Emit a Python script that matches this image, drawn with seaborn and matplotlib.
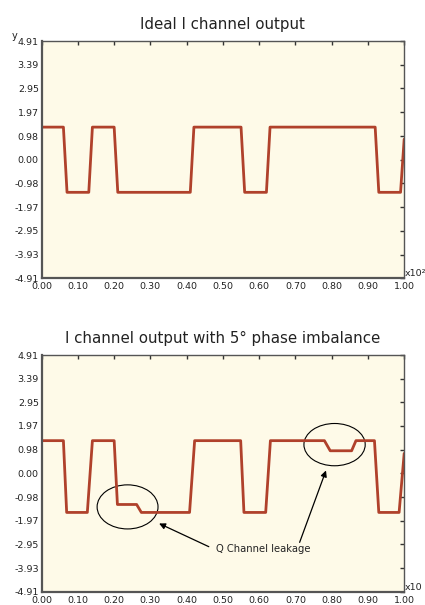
import numpy as np
import pandas as pd
import matplotlib
matplotlib.use("Agg")
import matplotlib.pyplot as plt
from matplotlib.patches import Ellipse
from matplotlib import font_manager
import seaborn as sns

# waveform breakpoints (x in units of x10^2)
ideal_t = [0.00, 0.06, 0.07, 0.13, 0.14, 0.20, 0.21, 0.41, 0.42, 0.55, 0.56,
           0.62, 0.63, 0.92, 0.93, 0.99, 1.00]
ideal_v = [1.35, 1.35, -1.35, -1.35, 1.35, 1.35, -1.35, -1.35, 1.35, 1.35, -1.35,
           -1.35, 1.35, 1.35, -1.35, -1.35, 0.85]

imb_t = [0.00, 0.06, 0.069, 0.126, 0.14, 0.20, 0.209, 0.262, 0.275, 0.408, 0.422,
         0.549, 0.558, 0.618, 0.631, 0.78, 0.796, 0.855, 0.867, 0.918, 0.93,
         0.986, 1.00]
imb_v = [1.36, 1.36, -1.62, -1.62, 1.36, 1.36, -1.29, -1.29, -1.62, -1.62, 1.36,
         1.36, -1.62, -1.62, 1.36, 1.36, 0.94, 0.94, 1.36, 1.36, -1.62,
         -1.62, 0.83]

ytick_pos = [4.91, 3.93, 2.95, 1.97, 0.98, 0.00, -0.98, -1.97, -2.95, -3.93, -4.91]
ytick_lab = ["4.91", "3.39", "2.95", "1.97", "0.98", "0.00", "-0.98", "-1.97",
             "-2.95", "-3.93", "-4.91"]
xtick_pos = [0.0, 0.1, 0.2, 0.3, 0.4, 0.5, 0.6, 0.7, 0.8, 0.9, 1.0]
xtick_lab = ["%.2f" % v for v in xtick_pos]

sns.set_style("white")
installed = {f.name for f in font_manager.fontManager.ttflist}
narrow = [n for n in ["Liberation Sans Narrow", "DejaVu Sans Condensed"] if n in installed]
plt.rcParams['font.family'] = narrow + ['DejaVu Sans']

line_col = "#b0412b"
bg_col = "#fefae8"
spine_col = "#555555"
text_col = "#222222"

fig = plt.figure(figsize=(4.25, 6.05), dpi=100)
ax1 = fig.add_axes([0.098, 0.540, 0.853, 0.392])
ax2 = fig.add_axes([0.098, 0.022, 0.853, 0.391])


def style_axis(ax, title, mult):
    ax.set_facecolor(bg_col)
    ax.set_xlim(0, 1)
    ax.set_ylim(-4.91, 4.91)
    ax.set_xticks(xtick_pos)
    ax.set_xticklabels(xtick_lab)
    ax.set_yticks(ytick_pos)
    ax.set_yticklabels(ytick_lab)
    ax.tick_params(direction="in", length=3, width=1, color="#333333",
                   labelsize=6.8, top=True, right=True, pad=2,
                   labelcolor=text_col)
    ax.tick_params(axis="x", pad=3)
    for s in ax.spines.values():
        s.set_color(spine_col)
        s.set_linewidth(1.0)
    ax.spines["left"].set_linewidth(1.6)
    ax.spines["bottom"].set_linewidth(1.6)
    ax.set_xlabel("")
    ax.set_ylabel("")
    ax.set_title(title, fontsize=10.8, color=text_col, pad=9)
    ax.text(1.002, 0.0, mult, transform=ax.transAxes, fontsize=6.8,
            color=text_col, ha="left", va="bottom")


df1 = pd.DataFrame({"t": ideal_t, "v": ideal_v})
df2 = pd.DataFrame({"t": imb_t, "v": imb_v})
sns.lineplot(data=df1, x="t", y="v", ax=ax1, color=line_col, linewidth=2.0,
             estimator=None, sort=False)
sns.lineplot(data=df2, x="t", y="v", ax=ax2, color=line_col, linewidth=2.0,
             estimator=None, sort=False)

style_axis(ax1, "Ideal I channel output", "x10²")
style_axis(ax2, "I channel output with 5° phase imbalance", "x10")
ax1.text(-0.075, 1.0, "y", transform=ax1.transAxes, fontsize=7,
         color=text_col, ha="center", va="bottom")

# leakage ellipses and annotation
ax2.add_patch(Ellipse((0.237, -1.39), 0.168, 1.83, fill=False, color="black",
                      linewidth=0.8))
ax2.add_patch(Ellipse((0.808, 1.195), 0.169, 1.755, fill=False, color="black",
                      linewidth=0.8))
ax2.text(0.482, -3.15, "Q Channel leakage", fontsize=7.2, color=text_col,
         ha="left", va="center")
arrow = dict(arrowstyle="-|>", color="black", linewidth=0.9,
             mutation_scale=9)
ax2.annotate("", xy=(0.317, -2.03), xytext=(0.468, -3.09), arrowprops=arrow)
ax2.annotate("", xy=(0.787, 0.23), xytext=(0.709, -2.97), arrowprops=arrow)

fig.savefig("out.png", dpi=100)
